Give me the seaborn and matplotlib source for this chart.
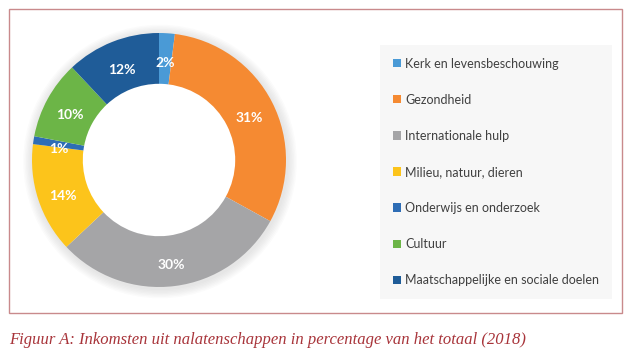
import matplotlib
matplotlib.use("Agg")
import matplotlib.pyplot as plt
import seaborn as sns
import numpy as np
from matplotlib.patches import Patch, Rectangle, Wedge

categories = ["Kerk en levensbeschouwing", "Gezondheid", "Internationale hulp",
              "Milieu, natuur, dieren", "Onderwijs en onderzoek", "Cultuur",
              "Maatschappelijke en sociale doelen"]
values = [2, 31, 30, 14, 1, 10, 12]
labels = ["2%", "31%", "30%", "14%", "1%", "10%", "12%"]
colors = ["#4a9ad6", "#f58a32", "#a5a5a7", "#fcc41b", "#2e6db5", "#6cb547", "#1f5c98"]
caption = "Figuur A: Inkomsten uit nalatenschappen in percentage van het totaal (2018)"

sns.set_theme(style="white")
plt.rcParams['font.family'] = ['Lato', 'DejaVu Sans']

W, H = 630, 362
fig = plt.figure(figsize=(W / 100, H / 100), dpi=100)
fig.patch.set_facecolor("white")

# frame
fig.add_artist(Rectangle((9 / W, 1 - 313 / H), (622 - 9) / W, (313 - 9) / H,
                         transform=fig.transFigure, fill=False,
                         edgecolor="#c98a8c", linewidth=1.0))

# donut
cx, cy, r = 159, 160, 127
ax = fig.add_axes([(cx - r) / W, (H - cy - r) / H, 2 * r / W, 2 * r / H])

# soft shadow just outside the ring
for k in range(7):
    ax.add_patch(Wedge((0.008, -0.012), 1.0 + 0.011 * (k + 1), 0, 360,
                       width=0.03 + 0.011 * (k + 1), facecolor="#909090",
                       alpha=0.03, edgecolor="none", clip_on=False, zorder=0))

wedges, _ = ax.pie(values, colors=colors, startangle=90, counterclock=False,
                   radius=1.0, wedgeprops=dict(width=0.4, edgecolor="none"))
for w in wedges:
    w.set_zorder(2)
ax.set_xlim(-1, 1)
ax.set_ylim(-1, 1)
ax.set_aspect("equal")
ax.axis("off")

cum = np.cumsum([0] + values[:-1])
for v, c0, lab in zip(values, cum, labels):
    ang = np.deg2rad(90 - (c0 + v / 2) / sum(values) * 360)
    rr = 0.8
    ax.text(rr * np.cos(ang), rr * np.sin(ang) - 0.035, lab, ha="center", va="center",
            color="white", fontsize=10, fontweight="bold", zorder=3)

# legend
handles = [Patch(facecolor=c, edgecolor="none") for c in colors]
leg = fig.legend(handles, categories, loc="upper left",
                 bbox_to_anchor=(380 / W, 1 - 45 / H), frameon=True,
                 fontsize=9, labelspacing=1.93, handlelength=0.65,
                 handleheight=0.65, handletextpad=0.35, borderpad=1.0,
                 borderaxespad=0)
leg.get_frame().set_facecolor("#f6f6f6")
leg.get_frame().set_edgecolor("none")
leg.get_frame().set_boxstyle("square", pad=0)
for t in leg.get_texts():
    t.set_color("#404040")

fig.text(9 / W, 1 - 340 / H, caption, fontsize=12, style="italic",
         family=["Liberation Serif", "DejaVu Serif"], color="#a8343a",
         ha="left", va="center")

fig.savefig("out.png", dpi=100, facecolor="white")
